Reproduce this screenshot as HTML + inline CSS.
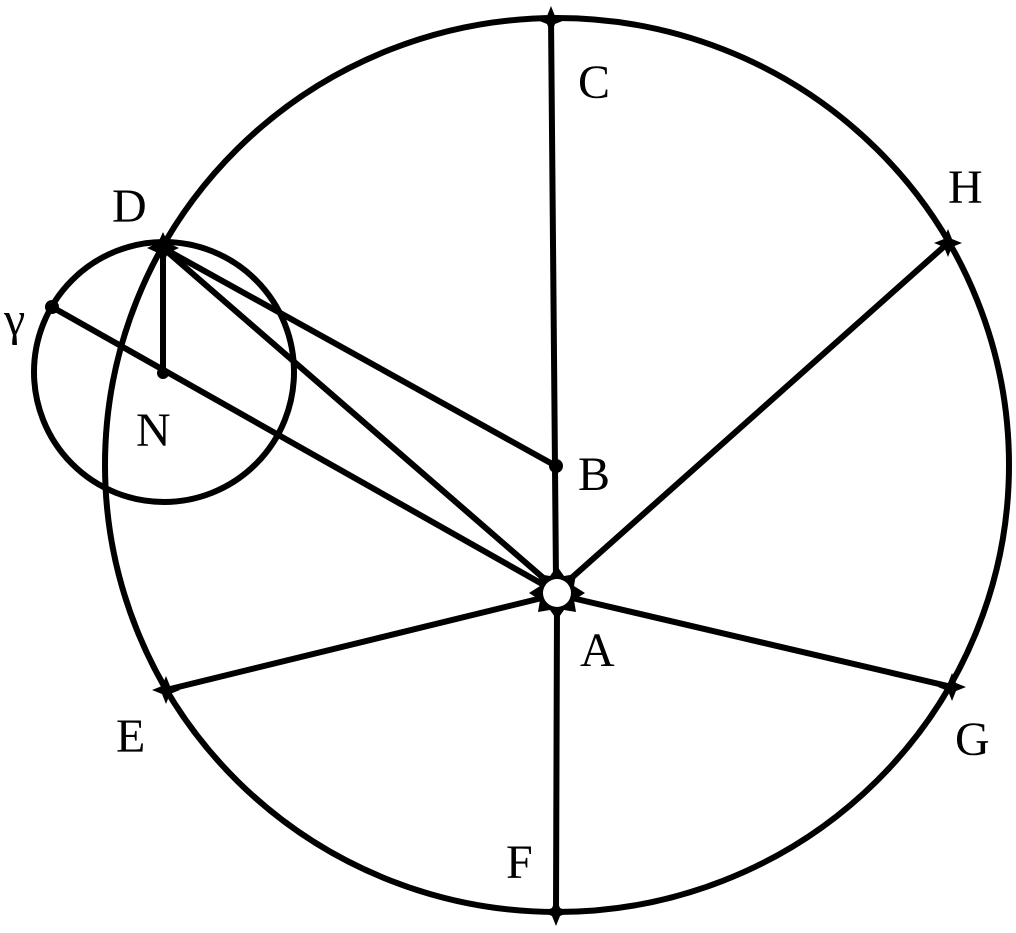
<!DOCTYPE html>
<html><head><style>html,body{margin:0;padding:0;background:#fff}svg{display:block}</style></head>
<body>
<svg width="1016" height="933" viewBox="0 0 1016 933" xmlns="http://www.w3.org/2000/svg">
<g fill="none" stroke="#000" stroke-width="6" stroke-linecap="round">
<ellipse cx="557" cy="465" rx="452" ry="447"/>
<circle cx="164" cy="372" r="130"/>
<line x1="551" y1="18" x2="556" y2="580"/>
<line x1="557" y1="606" x2="556" y2="912"/>
<line x1="163" y1="248" x2="556" y2="466"/>
<line x1="163" y1="248" x2="548" y2="582"/>
<line x1="163" y1="248" x2="163" y2="373"/>
<line x1="52" y1="307" x2="544" y2="585"/>
<line x1="567" y1="582" x2="948" y2="243"/>
<line x1="542" y1="598" x2="166" y2="690"/>
<line x1="572" y1="598" x2="952" y2="687"/>
</g>
<g fill="#000">
<circle cx="163" cy="373" r="6"/><circle cx="52" cy="307" r="7"/><circle cx="556" cy="466" r="7"/>
</g>
<g fill="#000">
<path transform="translate(163,248)" d="M0,-16 L5,-5 L16,0 L5,5 L0,16 L-5,5 L-16,0 L-5,-5Z"/>
<path transform="translate(551,20)" d="M0,-14 L4,-4 L14,0 L4,4 L0,14 L-4,4 L-14,0 L-4,-4Z"/>
<path transform="translate(948,243)" d="M0,-14 L4,-4 L14,0 L4,4 L0,14 L-4,4 L-14,0 L-4,-4Z"/>
<path transform="translate(952,687)" d="M0,-14 L4,-4 L14,0 L4,4 L0,14 L-4,4 L-14,0 L-4,-4Z"/>
<path transform="translate(166,690)" d="M0,-14 L4,-4 L14,0 L4,4 L0,14 L-4,4 L-14,0 L-4,-4Z"/>
<path transform="translate(556,912)" d="M0,-14 L4,-4 L14,0 L4,4 L0,14 L-4,4 L-14,0 L-4,-4Z"/>
</g>
<path transform="translate(557,593)" fill="#000" d="M0,-27 L7,-17 L19,-19 L17,-7 L28,0 L17,7 L19,19 L7,17 L0,27 L-7,17 L-19,19 L-17,7 L-28,0 L-17,-7 L-19,-19 L-7,-17Z"/>
<circle cx="557" cy="593" r="14" fill="#fff"/>
<g font-family="Liberation Serif, serif" font-size="48" fill="#000">
<text x="578" y="98">C</text>
<text x="112" y="222">D</text>
<text x="948" y="203">H</text>
<text x="4" y="335">γ</text>
<text x="136" y="446">N</text>
<text x="578" y="490">B</text>
<text x="580" y="666">A</text>
<text x="116" y="752">E</text>
<text x="955" y="755">G</text>
<text x="506" y="878">F</text>
</g>
</svg>
</body></html>
